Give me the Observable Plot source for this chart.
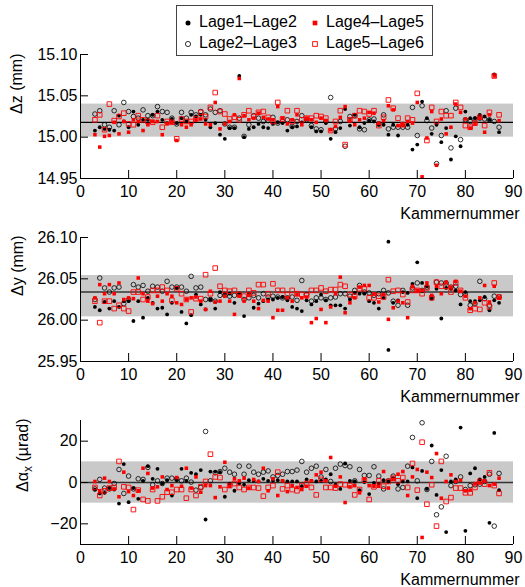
<!DOCTYPE html>
<html>
<head>
<meta charset="utf-8">
<script src="https://cdn.jsdelivr.net/npm/d3@7"></script>
<script src="https://cdn.jsdelivr.net/npm/@observablehq/plot@0.6"></script>
<style>
  html, body { margin: 0; padding: 0; background: #fff; }
  #root { position: relative; width: 525px; height: 587px; overflow: hidden; font-family: "Liberation Sans", Arial, sans-serif; }
  .panel { position: absolute; left: 0; }
  #legend { position: absolute; left: 176px; top: 5px; width: 257px; height: 51px; box-sizing: border-box;
            border: 1px solid #444; background: #fff; font-size: 16px; color: #000; }
  #legend span.t { position: absolute; line-height: 18px; white-space: nowrap; }
  #legend svg { position: absolute; left: 0; top: 0; }
</style>
</head>
<body>
<div id="root"></div>
<script>
// ---------------- data ----------------
const chambers = [3,4,5,6,7,8,9,10,11,12,13,14,15,16,17,18,19,20,21,22,23,24,25,26,27,28,29,30,31,32,
  33,34,35,36,37,38,39,40,41,42,43,44,45,46,47,48,49,50,51,52,53,54,55,56,57,58,59,60,61,62,
  63,64,65,66,67,68,69,70,71,72,73,74,75,76,77,78,79,80,81,82,83,84,85,86,87];

const seriesNames = ["Lage1\u2013Lage2", "Lage2\u2013Lage3", "Lage4\u2013Lage5", "Lage5\u2013Lage6"];

// Δz (mm)
const z12 = [15.008,15.012,15.010,15.009,15.008,15.026,15.019,15.012,15.031,15.015,
  15.021,15.021,15.027,15.031,15.021,15.017,15.022,15.017,15.023,15.019,
  15.027,15.025,15.027,15.021,15.012,15.017,15.003,14.998,15.011,15.011,
  15.074,15.000,15.010,15.012,15.016,15.012,15.011,15.016,15.018,15.017,
  15.008,15.012,15.013,15.018,15.022,15.012,15.007,15.007,15.017,14.998,
  15.006,15.011,15.034,15.014,15.027,15.012,15.017,15.020,15.019,15.015,
  15.015,15.003,15.015,15.002,15.015,15.015,14.985,14.991,15.043,15.023,
  15.004,15.015,14.994,15.011,14.973,15.001,14.989,15.031,15.023,15.023,
  15.027,15.025,15.021,15.076,15.006];
const z23 = [15.028,15.032,15.015,15.012,15.032,15.015,15.042,15.031,15.025,15.023,
  15.033,15.026,15.026,15.037,15.031,15.030,15.023,15.016,15.030,15.023,
  15.030,15.027,15.031,15.027,15.034,15.030,15.032,15.016,15.012,15.012,
  15.023,15.001,15.015,15.026,15.023,15.019,15.020,15.024,15.017,15.019,
  15.021,15.013,15.019,15.026,15.021,15.014,15.010,15.009,15.019,15.048,
  15.010,15.019,14.989,15.025,15.026,15.010,15.009,15.021,15.022,15.016,
  15.027,15.010,15.012,15.012,15.012,15.012,15.036,15.002,15.038,15.020,
  15.011,14.968,15.002,15.032,14.987,15.035,14.997,15.021,15.019,15.022,
  15.023,15.022,15.021,15.019,15.012];
const z45 = [15.003,14.988,15.001,15.002,15.018,15.004,15.019,15.006,15.021,15.019,
  15.008,15.015,15.019,15.019,15.003,15.016,15.018,14.996,15.015,15.012,
  15.015,15.021,15.022,15.016,15.015,15.042,15.010,15.016,15.019,15.027,
  15.071,15.026,15.021,15.023,15.029,15.024,15.022,15.021,15.037,15.023,
  15.016,15.021,15.027,15.015,15.023,15.021,15.018,15.023,15.020,15.009,
  15.013,15.024,15.037,15.020,15.015,15.021,15.023,15.030,15.029,15.017,
  15.020,15.038,15.033,15.014,15.015,15.019,15.017,15.042,14.952,14.999,
  15.031,14.966,15.022,15.004,15.012,15.040,15.030,15.022,15.011,15.016,
  15.023,15.006,15.027,15.074,15.020];
const z56 = [15.021,15.027,15.009,15.040,15.020,15.025,15.029,15.016,15.015,15.026,
  15.021,15.019,15.018,15.026,15.012,15.019,15.018,14.998,15.022,15.019,
  15.019,15.022,15.030,15.025,15.036,15.054,15.031,15.028,15.022,15.024,
  15.021,15.027,15.032,15.025,15.030,15.031,15.024,15.019,15.042,15.022,
  15.032,15.019,15.032,15.021,15.023,15.023,15.026,15.025,15.023,15.008,
  15.019,15.032,14.991,15.021,15.026,15.032,15.031,15.028,15.032,15.014,
  15.024,15.045,15.035,15.023,15.015,15.023,15.021,15.053,null,14.996,
  15.036,15.019,15.031,15.026,15.026,15.042,15.036,15.014,15.012,15.017,
  15.024,15.014,15.030,15.074,15.027];

// Δy (mm)
const y12 = [26.016,26.012,26.022,26.014,26.023,26.016,26.023,26.023,25.999,26.023,
  26.003,26.027,26.021,26.014,26.015,26.007,26.021,26.039,26.010,25.996,
  26.006,26.031,26.019,26.013,26.025,26.014,26.034,26.032,26.032,26.021,
  26.032,26.005,26.032,26.015,26.020,26.023,26.025,26.025,26.027,26.028,
  26.024,26.016,26.014,26.011,26.024,26.019,26.023,26.031,26.024,26.018,
  26.018,26.018,26.014,26.025,26.033,26.032,26.032,26.023,26.021,26.014,
  26.027,25.964,26.021,26.024,26.034,26.033,26.044,26.070,26.045,26.041,
  26.026,26.038,26.002,26.039,26.038,26.036,26.019,26.034,26.023,26.023,
  26.024,26.028,26.012,26.024,26.021];
const y12ExtraChamber = [64];
const y12ExtraValue = [26.095];
const y23 = [26.025,26.051,26.039,26.034,26.039,26.040,26.020,26.025,26.043,26.040,
  26.042,26.035,26.041,26.040,26.035,26.047,26.040,26.040,26.040,26.035,
  26.053,26.039,26.040,26.025,26.025,26.023,26.030,26.030,26.029,26.030,
  26.031,26.025,26.027,26.030,26.027,26.032,26.028,26.029,26.028,26.027,
  26.027,26.028,26.024,26.048,26.031,26.023,26.027,26.027,26.025,26.027,
  26.028,26.032,26.032,26.029,26.036,26.042,26.034,26.033,26.030,26.032,
  26.036,26.033,26.023,26.018,26.036,26.018,26.039,26.045,26.036,26.040,
  26.028,26.046,26.045,26.045,26.040,26.041,26.031,26.032,26.018,26.020,
  26.047,26.026,26.018,26.029,26.028];
const y45 = [26.027,26.043,26.032,26.043,26.032,26.045,26.025,26.027,26.026,26.051,
  26.032,26.023,26.020,26.029,26.023,26.032,26.029,26.021,26.019,26.025,
  26.027,26.028,26.023,26.013,26.035,26.022,26.023,26.029,26.023,26.007,
  26.029,26.023,26.030,26.023,26.014,26.024,26.023,26.003,26.012,26.012,
  26.027,26.023,26.031,26.027,26.028,25.997,26.002,26.013,25.997,26.016,
  26.032,26.052,26.009,26.021,26.027,26.040,26.042,26.042,26.032,26.022,
  26.031,26.001,26.015,26.023,26.021,26.003,26.041,26.036,26.036,26.045,
  26.030,26.041,26.032,26.046,26.040,26.047,26.035,26.029,26.014,26.021,
  26.027,26.042,26.022,26.041,26.027];
const y56 = [26.023,25.997,26.023,26.023,26.014,26.018,26.014,26.011,26.034,26.034,
  26.025,26.028,26.036,26.036,26.040,26.036,26.024,26.038,26.032,26.025,
  26.010,26.026,26.026,26.055,26.032,26.063,26.041,26.036,26.035,26.036,
  26.031,26.029,26.036,26.033,26.043,26.043,26.032,26.044,26.036,26.036,
  26.031,26.036,26.032,26.031,26.030,26.036,26.036,26.039,26.035,26.037,
  26.037,26.043,26.041,26.031,26.029,26.038,26.038,26.027,26.027,26.029,
  26.028,26.049,26.035,26.036,26.031,26.022,26.036,26.036,26.032,26.039,
  26.027,26.046,26.041,26.041,26.034,26.045,26.036,26.027,26.012,26.014,
  26.013,26.021,26.016,26.045,26.028];

// Δαx (µrad)
const a12 = [-3.4,-5.3,-5.0,-2.7,-3.4,-10.2,8.9,-9.5,-2.7,-7.9,
  0.8,7.9,1.8,6.6,-0.5,1.1,-6.3,1.1,6.6,0.8,
  4.7,4.0,6.0,-17.9,5.3,5.3,5.0,-6.9,-0.5,-4.0,
  -0.5,-1.1,1.1,0.8,0.5,1.8,0.8,0.8,1.1,0.8,
  0.5,0.5,0.5,-1.8,1.5,0.8,0.5,0.8,1.5,4.0,
  -1.1,-3.1,9.2,0.8,0.5,-3.7,0.2,-5.6,-0.2,-0.5,
  1.1,0.5,2.1,-0.8,0.5,0.5,7.3,-7.6,5.6,-3.1,
  17.9,-6.0,6.0,-24.0,0.5,1.5,26.6,-23.4,4.4,6.9,
  1.5,2.7,-19.5,24.0,-3.7];
const a23 = [-3.1,1.5,-2.7,-3.1,-0.5,6.3,-5.3,3.1,-3.1,1.8,
  1.5,7.3,-1.1,0.8,-0.5,2.1,2.1,1.8,0.8,2.1,
  0.2,-3.7,-2.4,24.7,0.8,4.7,5.3,6.9,5.0,4.0,
  7.9,4.0,7.9,5.0,4.0,5.0,5.6,2.7,3.4,4.0,
  5.3,5.3,6.0,10.2,5.0,6.9,7.9,2.7,6.3,0.5,
  6.9,8.9,8.2,7.6,0.8,6.3,3.4,3.4,7.6,3.1,
  -3.1,0.8,3.1,-3.1,-2.4,7.9,21.8,0.8,28.9,-3.4,
  10.2,-15.6,-11.8,12.7,-1.5,0.5,2.7,-3.4,-1.5,-1.1,
  -0.8,0.5,4.0,-21.1,4.4];
const a45 = [0.5,-4.0,2.1,0.5,-3.1,-6.9,5.0,-4.4,-6.3,-4.0,
  6.9,4.4,-2.7,-2.1,2.7,-3.4,-1.5,2.4,-1.8,6.9,
  -2.7,2.7,-4.7,-1.5,-1.5,-7.3,-2.1,9.8,-1.8,1.8,
  0.8,2.1,-2.7,1.5,0.5,6.9,-4.0,1.8,-6.3,0.8,
  -4.4,-1.5,-2.4,-3.4,-1.8,0.8,3.7,5.0,0.8,12.1,
  -1.8,2.7,-9.7,-2.1,-1.5,-5.0,1.8,-1.5,-1.8,-1.8,
  5.3,-2.7,1.5,4.0,5.3,-6.3,2.7,6.3,-26.6,5.0,
  2.4,14.0,-7.6,0.5,3.7,0.5,1.1,-4.0,-3.7,-0.5,
  -0.2,0.8,-1.5,-0.8,2.1];
const a56 = [-2.4,-6.3,-4.0,-2.7,-2.4,10.2,-2.1,-2.4,-13.1,-3.7,
  -8.2,-8.9,-3.4,-8.9,-6.9,-4.7,-4.7,-3.4,-3.4,-7.6,
  -3.4,-6.3,-2.1,0.5,13.7,2.7,2.4,-3.4,-1.5,-0.5,
  -2.4,-3.4,-2.4,-2.4,-2.7,-6.6,-2.4,-1.5,5.0,-3.1,
  -1.5,-3.4,-4.0,-1.5,-0.5,-2.4,-6.0,1.5,-2.4,-2.4,
  -2.7,-0.8,-1.1,-1.5,-6.0,-3.4,1.1,-8.2,-2.1,0.8,
  -1.8,0.5,2.1,0.8,2.4,-2.4,9.2,-3.7,19.5,-10.5,
  -1.1,-21.1,10.2,-9.2,-7.3,-2.7,-2.7,-5.0,-5.0,-2.4,
  0.5,-0.8,4.7,-1.5,-5.3];

// axes, bands and reference lines
const xDomain = [0, 90];
const xTicks = [0, 10, 20, 30, 40, 50, 60, 70, 80, 90];
const zDomain = [14.95, 15.10];
const zTicks = [14.95, 15.00, 15.05, 15.10];
const zBand = [15.000, 15.040];
const zMean = [15.018];
const yDomain = [25.95, 26.10];
const yTicks = [25.95, 26.00, 26.05, 26.10];
const yBand = [26.004, 26.054];
const yMean = [26.034];
const aDomain = [-30, 30];
const aTicks = [-20, 0, 20];
const aBand = [-10, 10];
const aMean = [0];
const xLabel = "Kammernummer";

// ---------------- drawing ----------------
const FONT = "'Liberation Sans', Arial, Helvetica, sans-serif";
const styles = [
  {symbol: "circle", r: 1.9, fill: "#000", stroke: "none", strokeWidth: 0},
  {symbol: "circle", r: 2.3, fill: "none", stroke: "#000", strokeWidth: 0.8},
  {symbol: "square", r: 2.0, fill: "#ff0000", stroke: "none", strokeWidth: 0},
  {symbol: "square", r: 2.6, fill: "none", stroke: "#ff0000", strokeWidth: 0.9}
];

function makePanel(o) {
  const rows = [];
  o.values.forEach((vals, si) => vals.forEach((v, i) => {
    if (v != null) rows.push({k: chambers[i], v, s: si});
  }));
  (o.extra || []).forEach(e => e.chambers.forEach((c, i) => rows.push({k: c, v: e.values[i], s: e.s})));

  const dots = styles.map((st, si) => Plot.dot(rows.filter(r => r.s === si), {
    x: "k", y: "v", symbol: st.symbol, r: st.r, fill: st.fill, stroke: st.stroke, strokeWidth: st.strokeWidth
  }));

  return Plot.plot({
    width: 525, height: 221,
    marginTop: 54, marginBottom: 43, marginLeft: 80, marginRight: 12,
    style: {fontFamily: FONT, fontSize: "16px", background: "transparent", overflow: "visible", color: "#000"},
    x: {domain: xDomain, label: null},
    y: {domain: o.domain, label: null},
    marks: [
      Plot.rect([o.band], {x1: () => xDomain[0], x2: () => xDomain[1], y1: d => d[0], y2: d => d[1], fill: "#c9c9c9"}),
      Plot.ruleY(o.mean, {stroke: o.meanStroke, strokeWidth: o.meanWidth}),
      ...dots,
      Plot.ruleX([xDomain[0]], {y1: () => o.domain[0], y2: () => o.domain[1], stroke: "#000", strokeWidth: 1}),
      Plot.ruleY([o.domain[0]], {x1: () => xDomain[0], x2: () => xDomain[1], stroke: "#000", strokeWidth: 1}),
      Plot.axisX(xTicks, {tickSize: -8, tickPadding: 15, fontSize: 16, tickFormat: d => String(d), label: null}),
      Plot.axisY(o.ticks, {tickSize: -8, tickPadding: 11, fontSize: 16, tickFormat: o.fmt, label: null}),
      Plot.text([o.label], {text: d => d, frameAnchor: "top-left", rotate: -90, textAnchor: "end",
        lineAnchor: "middle", dx: o.labelDx, dy: o.labelDy, fontSize: 16}),
      Plot.text([xLabel], {text: d => d, frameAnchor: "bottom-right", textAnchor: "end",
        lineAnchor: "middle", dx: 6, dy: 35.5, fontSize: 16})
    ]
  });
}

const root = document.getElementById("root");
const f2 = d3.format(".2f");

const panels = [
  {top: 0, values: [z12, z23, z45, z56], domain: zDomain, ticks: zTicks, fmt: f2, band: zBand, mean: zMean,
   meanStroke: "#000", meanWidth: 1.2, label: "\u0394z (mm)", labelDx: -64, labelDy: -1},
  {top: 183, values: [y12, y23, y45, y56], domain: yDomain, ticks: yTicks, fmt: f2, band: yBand, mean: yMean,
   meanStroke: "#5a5a5a", meanWidth: 2, label: "\u0394y (mm)", labelDx: -63, labelDy: -2,
   extra: [{chambers: y12ExtraChamber, values: y12ExtraValue, s: 0}]},
  {top: 366, values: [a12, a23, a45, a56], domain: aDomain, ticks: aTicks, fmt: d => d3.format("")(d).replace("-", "\u2212"),
   band: aBand, mean: aMean, meanStroke: "#333", meanWidth: 1.3, label: "\u0394\u03b1x (\u00b5rad)", labelDx: -58, labelDy: -2}
];

panels.forEach(p => {
  const svg = makePanel(p);
  const wrap = document.createElement("div");
  wrap.className = "panel";
  wrap.style.top = p.top + "px";
  wrap.appendChild(svg);
  root.appendChild(wrap);
});

// subscript in the alpha label
d3.select(root).selectAll("text").filter(function() { return this.textContent === "\u0394\u03b1x (\u00b5rad)"; })
  .each(function() {
    const t = d3.select(this);
    t.text(null);
    t.append("tspan").text("\u0394\u03b1");
    t.append("tspan").attr("dy", 4).attr("font-size", 12).text("x");
    t.append("tspan").attr("dy", -4).text(" (\u00b5rad)");
  });

// legend (HTML box)
const legend = document.createElement("div");
legend.id = "legend";
const ns = "http://www.w3.org/2000/svg";
const lsvg = document.createElementNS(ns, "svg");
lsvg.setAttribute("width", 255); lsvg.setAttribute("height", 49);
legend.appendChild(lsvg);
const legPos = [[11, 17], [11, 38], [138, 17], [138, 38]];
const legR = [2.5, 2.6, 2.6, 2.6];
seriesNames.forEach((name, i) => {
  const [cx, cy] = legPos[i];
  const st = styles[i];
  let el;
  if (st.symbol === "circle") {
    el = document.createElementNS(ns, "circle");
    el.setAttribute("cx", cx); el.setAttribute("cy", cy); el.setAttribute("r", legR[i]);
  } else {
    el = document.createElementNS(ns, "rect");
    const s = legR[i] * 1.8;
    el.setAttribute("x", cx - s / 2); el.setAttribute("y", cy - s / 2);
    el.setAttribute("width", s); el.setAttribute("height", s);
  }
  el.setAttribute("fill", st.fill);
  el.setAttribute("stroke", st.stroke);
  el.setAttribute("stroke-width", st.strokeWidth || 0);
  lsvg.appendChild(el);
  const sp = document.createElement("span");
  sp.className = "t";
  sp.textContent = name;
  sp.style.left = (cx + 11) + "px";
  sp.style.top = (cy - 10) + "px";
  legend.appendChild(sp);
});
root.appendChild(legend);
</script>
</body>
</html>
